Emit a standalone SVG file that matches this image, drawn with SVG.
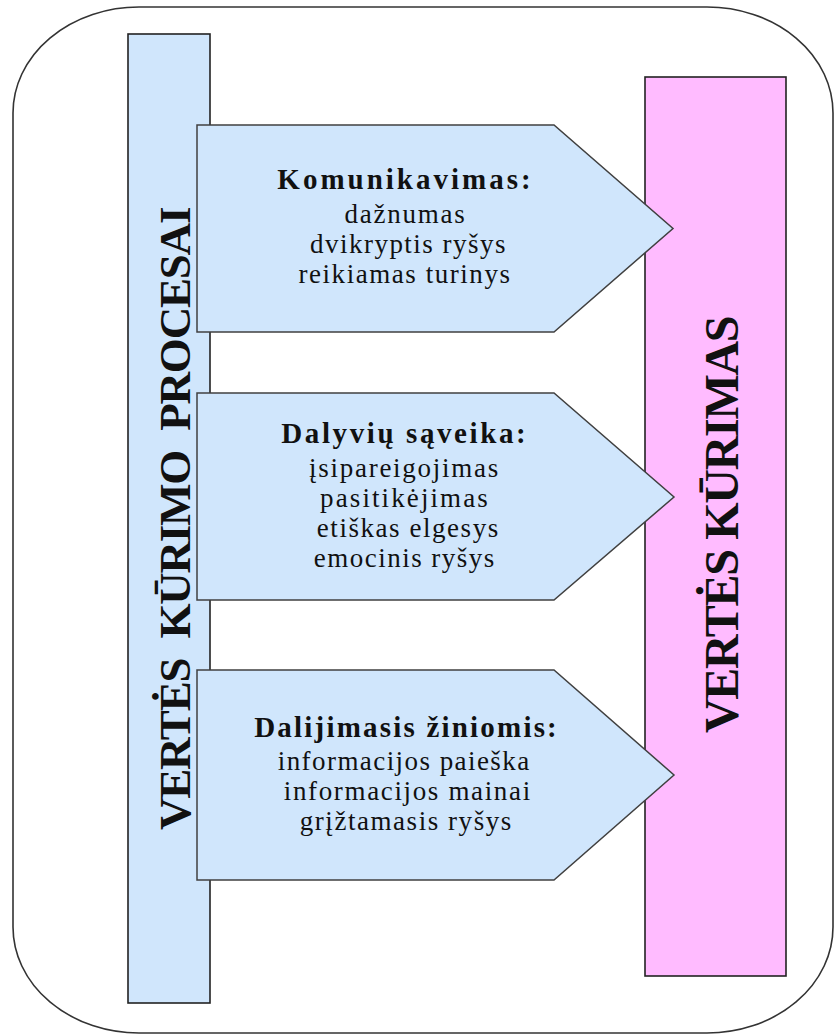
<svg xmlns="http://www.w3.org/2000/svg" width="835" height="1035" viewBox="0 0 835 1035">
<style>
.frame{fill:#ffffff;stroke:#333333;stroke-width:1.6}
.bar{stroke:#222222;stroke-width:1.6}
.blue{fill:#D0E6FC}
.pink{fill:#FFBBFF}
.arrow{fill:#D0E6FC;stroke:#404040;stroke-width:1.5}
</style>
<rect id="frame" class="frame" x="13" y="7" width="820" height="1026" rx="126" ry="106"/>
<g id="node-processes">
<rect class="bar blue" x="128" y="34" width="82" height="969"/>
<text font-family="Liberation Serif, serif" font-weight="bold" font-size="45" letter-spacing="-1.2" fill="#111" xml:space="preserve" transform="translate(190,830) rotate(-90)">VERTĖS  KŪRIMO  PROCESAI</text>
</g>
<g id="node-value">
<rect class="bar pink" x="645" y="77" width="141" height="899"/>
<text font-family="Liberation Serif, serif" font-weight="bold" font-size="48" letter-spacing="-1.3" fill="#111" transform="translate(738,733) rotate(-90)">VERTĖS KŪRIMAS</text>
</g>
<g id="connectors">
<g id="node-communication">
<polygon class="arrow" points="197,125 554,125 673,228.5 554,332 197,332"/>
<g font-family="Liberation Serif, serif" fill="#111" text-anchor="middle">
<text x="405.5" y="189" font-size="29" font-weight="bold" letter-spacing="3">Komunikavimas:</text>
<text x="405.5" y="223" font-size="27" letter-spacing="1.75">dažnumas</text>
<text x="408.5" y="253" font-size="27" letter-spacing="1.48">dvikryptis ryšys</text>
<text x="405" y="283" font-size="27" letter-spacing="1.55">reikiamas turinys</text>
</g>
</g>
<g id="node-interaction">
<polygon class="arrow" points="197,393 554,393 674,497 554,600 197,600"/>
<g font-family="Liberation Serif, serif" fill="#111" text-anchor="middle">
<text x="404.8" y="443" font-size="29" font-weight="bold" letter-spacing="2.6">Dalyvių sąveika:</text>
<text x="404.5" y="477" font-size="27" letter-spacing="1.73">įsipareigojimas</text>
<text x="405" y="507" font-size="27" letter-spacing="2.1">pasitikėjimas</text>
<text x="408.3" y="537" font-size="27" letter-spacing="1.55">etiškas elgesys</text>
<text x="404.8" y="567" font-size="27" letter-spacing="1.48">emocinis ryšys</text>
</g>
</g>
<g id="node-knowledge">
<polygon class="arrow" points="197,670 554,670 674,775 554,880 197,880"/>
<g font-family="Liberation Serif, serif" fill="#111" text-anchor="middle">
<text x="406.6" y="737" font-size="29" font-weight="bold" letter-spacing="2.2">Dalijimasis žiniomis:</text>
<text x="404.2" y="770" font-size="27" letter-spacing="1.44">informacijos paieška</text>
<text x="407.8" y="800" font-size="27" letter-spacing="1.65">informacijos mainai</text>
<text x="406.3" y="830" font-size="27" letter-spacing="1.55">grįžtamasis ryšys</text>
</g>
</g>
</g>
</svg>
